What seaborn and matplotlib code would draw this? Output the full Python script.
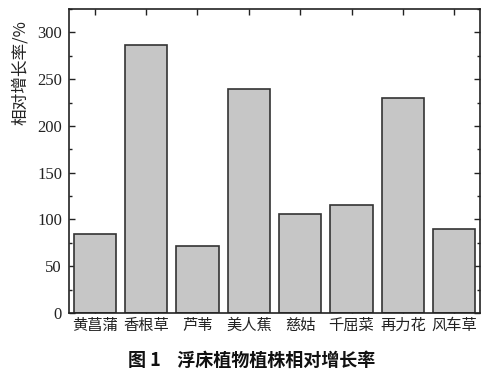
import matplotlib
matplotlib.use("Agg")
import matplotlib.pyplot as plt
import seaborn as sns
import pandas as pd
from matplotlib.ticker import MultipleLocator

categories = ["黄菖蒲", "香根草", "芦苇", "美人蕉", "慈姑", "千屈菜", "再力花", "风车草"]
values = [84, 287, 72, 239, 106, 115, 230, 90]
yticks = [0, 50, 100, 150, 200, 250, 300]

sns.set_theme(style="ticks")
plt.rcParams['font.family'] = ['Noto Sans CJK SC', 'DejaVu Sans']

df = pd.DataFrame({"cat": categories, "val": values})
fig = plt.figure(figsize=(5.03, 3.83), dpi=100)
ax = fig.add_axes([69/503, 1-313/383, (480-69)/503, (313-9)/383])
sns.barplot(data=df, x="cat", y="val", color="#c6c6c6", edgecolor="#333333",
            linewidth=1.2, width=0.82, saturation=1, ax=ax)
ax.set_xlim(-0.5, 7.5)
ax.set_ylim(0, 325)
ax.set_yticks(yticks)
ax.set_yticklabels([str(v) for v in yticks],
                   fontfamily=["Liberation Serif", "DejaVu Serif"], fontsize=12)
ax.yaxis.set_minor_locator(MultipleLocator(25))
ax.set_xlabel("")
ax.set_ylabel("相对增长率/%", fontsize=12, color="#222222", va="center")
ax.yaxis.set_label_coords(-0.118, 0.79)
for s in ax.spines.values():
    s.set_linewidth(1.2)
    s.set_color("#222222")
ax.tick_params(axis="both", which="both", direction="in", top=True, right=True,
               colors="#222222")
ax.tick_params(axis="both", which="major", length=4, width=1)
ax.tick_params(axis="y", which="minor", length=2.5, width=1)
ax.tick_params(axis="y", pad=5)
ax.tick_params(axis="x", labelsize=11, pad=3)
fig.text(0.5, 1-360/383, "图 1    浮床植物植株相对增长率", ha="center", va="center",
         fontsize=13, fontweight="bold", color="#111111")
fig.savefig("out.png", dpi=100)
